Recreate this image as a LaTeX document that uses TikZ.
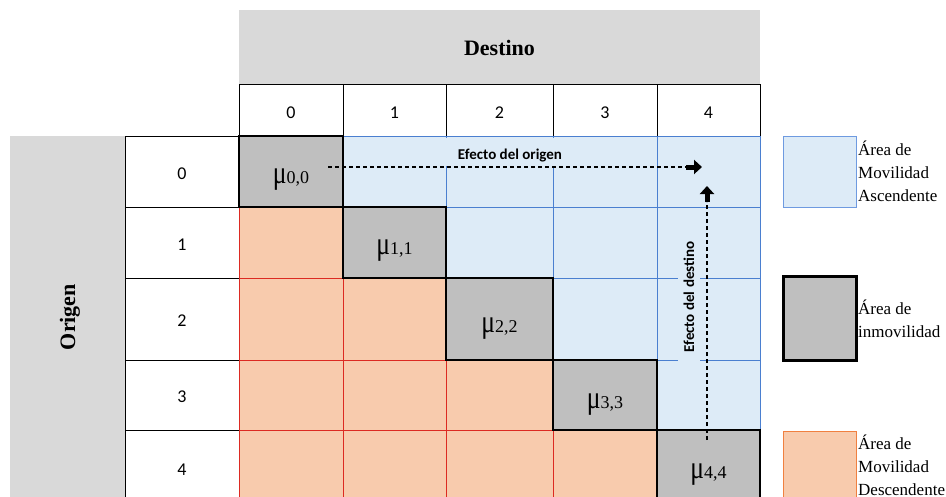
\documentclass[tikz,border=0pt]{standalone}
\usepackage{fontspec}
\usepackage{graphicx}
\setmainfont{Liberation Serif}
\newfontfamily\calib{Carlito}
\usetikzlibrary{arrows.meta}
\definecolor{hdrgray}{HTML}{D9D9D9}
\definecolor{mugray}{HTML}{BFBFBF}
\definecolor{upfill}{HTML}{DDEBF7}
\definecolor{upline}{HTML}{4A7FD0}
\definecolor{downfill}{HTML}{F8CBAD}
\definecolor{downline}{HTML}{DC2A22}
\definecolor{legup}{HTML}{6E9AE0}
\definecolor{legdown}{HTML}{F08040}
\newcommand{\mulab}[1]{{\fontsize{32}{32}\selectfont\scalebox{0.8}[1]{μ}}{\fontsize{18}{18}\selectfont #1}}
\begin{document}
\begin{tikzpicture}[x=1pt,y=-1pt,
  num/.style={font=\calib\fontsize{18}{18}\selectfont, anchor=center, inner sep=0},
  mulabel/.style={anchor=base, inner sep=0},
  effect/.style={font=\calib\bfseries\fontsize{15}{15}\selectfont, inner sep=0},
  legtext/.style={font=\fontsize{17}{17}\selectfont, anchor=base west, inner sep=0},
  headtext/.style={font=\bfseries\fontsize{22}{22}\selectfont, inner sep=0},
  thinblack/.style={draw=black, line width=0.9pt},
  mucell/.style={draw=black, fill=mugray, line width=2.6pt},
  dashline/.style={dash pattern=on 4pt off 3pt, line width=1.1pt},
  tipline/.style={line width=5pt, -{Triangle[length=8pt,width=14pt]}}
]
\clip (0,0) rectangle (946,496);

% header areas
\fill[hdrgray] (239,10) rectangle (760,84);
\node[headtext] (dest) at (499.5,47.5) {Destino};
\fill[hdrgray] (10,136) rectangle (125,505);
\node[headtext, rotate=90] (orig) at (70,317) {Origen};

% column numbers
\draw[thinblack] (239,84) rectangle (760,136);
\foreach \c/\xa/\xb in {0/239/343,1/343/446,2/446/553,3/553/657,4/657/760}{
  \draw[thinblack] (\xa,84) -- (\xa,136);
  \node[num] (col\c) at ({(\xa+\xb)/2},112.5) {\c};
}
% row labels
\foreach \r/\ya/\yb in {0/136/207,1/207/278,2/278/360,3/360/430,4/430/505}{
  \draw[thinblack] (125,\ya) rectangle (239,\yb);
  \node[num] (row\r) at (182,{(\ya+\yb)/2+2}) {\r};
}

% matrix cells
\foreach \r/\ya/\yb in {0/136/207,1/207/278,2/278/360,3/360/430,4/430/505}{
  \foreach \c/\xa/\xb in {0/239/343,1/343/446,2/446/553,3/553/657,4/657/760}{
    \ifnum\c>\r
      \draw[upline, fill=upfill, line width=1pt] (\xa,\ya) rectangle (\xb,\yb);
    \fi
    \ifnum\c<\r
      \draw[downline, fill=downfill, line width=1pt] (\xa,\ya) rectangle (\xb,\yb);
    \fi
  }
}
% label backgrounds (gaps in the grid)
\fill[upfill] (344.5,137.5) rectangle (655.5,166);
\fill[upfill] (678,212) rectangle (700,425);

% diagonal cells
\draw[mucell] (239,136) rectangle (343,207);
\draw[mucell] (343,207) rectangle (446,278);
\draw[mucell] (446,278) rectangle (553,360);
\draw[mucell] (553,360) rectangle (657,430);
\draw[mucell] (657,430) rectangle (760,505);
\node[mulabel] (mu0) at (291,183) {\mulab{0,0}};
\node[mulabel] (mu1) at (394.5,254) {\mulab{1,1}};
\node[mulabel] (mu2) at (499.5,332) {\mulab{2,2}};
\node[mulabel] (mu3) at (605,408) {\mulab{3,3}};
\node[mulabel] (mu4) at (708.5,478) {\mulab{4,4}};

% effects
\node[effect, anchor=base] (eo) at (510,159) {Efecto del origen};
\node[effect, anchor=base, rotate=90] (ed) at (694,297) {Efecto del destino};

\coordinate (h1) at (328,167);
\coordinate (h2) at (686,167);
\coordinate (h3) at (702,167);
\draw[dashline] (h1) -- (h2);
\draw[tipline] (h2) -- (h3);

\coordinate (v1) at (707,440);
\coordinate (v2) at (707,202);
\coordinate (v3) at (707,186);
\draw[dashline] (v1) -- (v2);
\draw[tipline] (v2) -- (v3);

% legend
\draw[legup, fill=upfill, line width=1pt] (783,136) rectangle (856,207);
\node[legtext] (l1a) at (858,155) {Área de};
\node[legtext] (l1b) at (858,178) {Movilidad};
\node[legtext] (l1c) at (858,201) {Ascendente};
\draw[black, fill=mugray, line width=3pt] (783,276) rectangle (856,360);
\node[legtext] (l2a) at (858,314) {Área de};
\node[legtext] (l2b) at (858,337) {inmovilidad};
\draw[legdown, fill=downfill, line width=1pt] (783,431) rectangle (856,505);
\node[legtext] (l3a) at (858,449) {Área de};
\node[legtext] (l3b) at (858,472) {Movilidad};
\node[legtext] (l3c) at (858,495) {Descendente};
\end{tikzpicture}
\end{document}
